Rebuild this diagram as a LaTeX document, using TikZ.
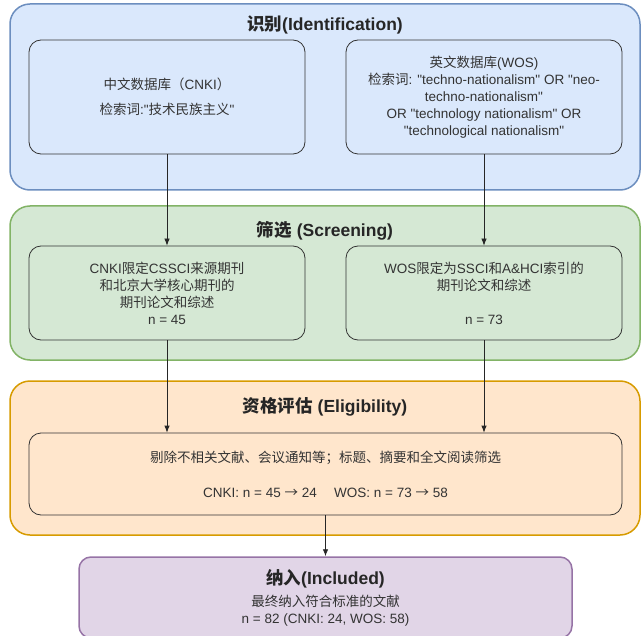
\documentclass[tikz,border=0pt]{standalone}
\usepackage{fontspec}
\setmainfont{Liberation Sans}
\newfontfamily\cjk{Noto Sans CJK SC}
\newcommand\zh[1]{{\cjk #1}}
\newcommand\qq{\textquotedbl}
\usepackage{tikz}
\usetikzlibrary{arrows.meta}
\usepackage{xcolor}
\definecolor{idfill}{HTML}{DAE8FC}
\definecolor{iddraw}{HTML}{6C8EBF}
\definecolor{scfill}{HTML}{D5E8D4}
\definecolor{scdraw}{HTML}{82B366}
\definecolor{elfill}{HTML}{FFE6CC}
\definecolor{eldraw}{HTML}{D79B00}
\definecolor{infill}{HTML}{E1D5E7}
\definecolor{indraw}{HTML}{9673A6}

\begin{document}
\begin{tikzpicture}[x=1pt,y=-1pt,
  stage/.style={draw, line width=1.5pt, rounded corners=20pt, minimum width=630pt, minimum height=154pt, inner sep=0pt},
  stagetitle/.style={font=\fontsize{17.5}{20}\selectfont\bfseries, text=black!85},
  srcbox/.style={draw=black!80, line width=0.8pt, rounded corners=12pt, minimum width=276pt, minimum height=94pt, inner sep=0pt, align=center, text=black!80, font=\fontsize{13.5}{17}\selectfont},
  flow/.style={-{Latex[length=7pt,width=5.5pt]}, black!85, line width=0.8pt}]
\useasboundingbox (0,0) rectangle (642,636);

\node[stage, fill=idfill, draw=iddraw, minimum height=186pt] (ident) at (325,97) {};
\node[stagetitle] (identtitle) at (325,25) {\zh{识别}(Identification)};
\node[srcbox, minimum height=114pt] (cnki) at (167,97) {\zh{中文数据库（}CNKI\zh{）}\\[8pt]\zh{检索词}:\qq\zh{技术民族主义}\qq};
\node[srcbox, minimum height=114pt] (wos) at (484,97) {\zh{英文数据库}(WOS)\\\zh{检索词}: \qq techno-nationalism\qq{} OR \qq neo-\\techno-nationalism\qq\\OR \qq technology nationalism\qq{} OR\\\qq technological nationalism\qq};

\node[stage, fill=scfill, draw=scdraw] (screen) at (325,283) {};
\node[stagetitle] (screentitle) at (325,231) {\zh{筛选} (Screening)};
\node[srcbox] (cnkiscr) at (167,293) {CNKI\zh{限定}CSSCI\zh{来源期刊}\\\zh{和北京大学核心期刊的}\\\zh{期刊论文和综述}\\n = 45};
\node[srcbox] (wosscr) at (484,293) {WOS\zh{限定为}SSCI\zh{和}A\&HCI\zh{索引的}\\\zh{期刊论文和综述}\\[17pt]n = 73};

\node[stage, fill=elfill, draw=eldraw] (elig) at (325,458) {};
\node[stagetitle] (eligtitle) at (325,407) {\zh{资格评估} (Eligibility)};
\node[srcbox, minimum width=593pt, minimum height=82pt] (eligall) at (325.5,474) {\zh{剔除不相关文献、会议通知等；标题、摘要和全文阅读筛选}\\[18pt]CNKI: n = 45 \zh{→} 24\quad\ WOS: n = 73 \zh{→} 58};

\node[draw=indraw, fill=infill, line width=1.5pt, rounded corners=12pt, minimum width=493pt, minimum height=81pt, inner sep=0pt, align=center, text=black!80, font=\fontsize{13.5}{17}\selectfont] (incl) at (325.5,597.5) {{\fontsize{17.5}{20}\selectfont\bfseries\color{black!85}\zh{纳入}(Included)}\\[5pt]\zh{最终纳入符合标准的文献}\\n = 82 (CNKI: 24, WOS: 58)};

\draw[flow] (cnki) -- (cnkiscr);
\draw[flow] (wos) -- (wosscr);
\draw[flow] (cnkiscr.south) -- (cnkiscr.south |- eligall.north);
\draw[flow] (wosscr.south) -- (wosscr.south |- eligall.north);
\draw[flow] (eligall) -- (incl);

\end{tikzpicture}
\end{document}
